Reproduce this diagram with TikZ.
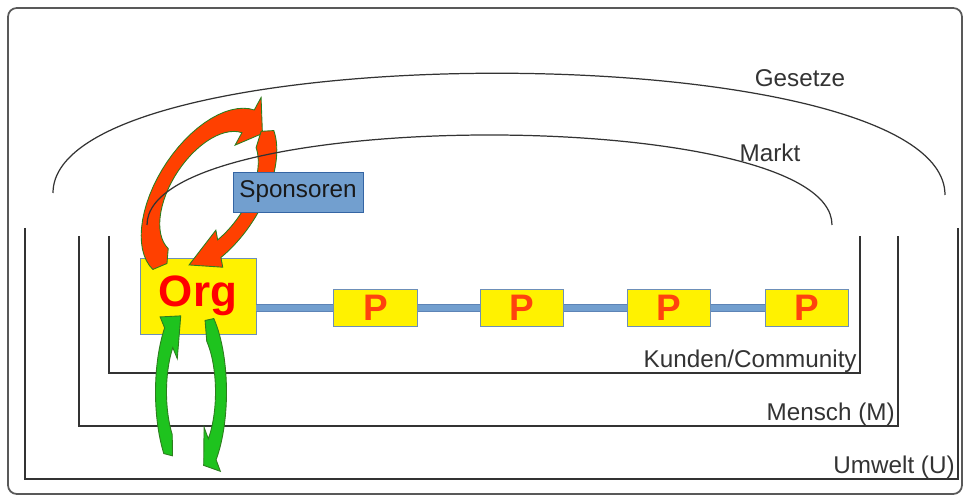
\documentclass[tikz,border=0pt]{standalone}
\usepackage{fontspec}
\setmainfont{Liberation Sans}
\usetikzlibrary{positioning}

\definecolor{boxblue}{HTML}{729FCF}
\definecolor{boxedge}{HTML}{3465A4}
\definecolor{orgedge}{HTML}{6D8FB8}
\definecolor{pred}{HTML}{FF420E}
\definecolor{loopred}{HTML}{FF4000}
\definecolor{loopgreen}{HTML}{1EC31E}
\definecolor{loopedge}{HTML}{2D7D1E}
\definecolor{lineg}{HTML}{333333}

% bent arrow: style, tail, start, end, tip angle, half width
\newcommand{\bentarrow}[6]{%
 \pgfmathsetmacro{\arrOut}{60+#6}\pgfmathsetmacro{\arrIn}{60-#6}%
 \pgfmathsetmacro{\wingOut}{60+2.1*#6}\pgfmathsetmacro{\wingIn}{60-2.1*#6}%
 \filldraw[#1] (#2:60) -- plot[domain=#3:#4,samples=30] (\x:\arrOut)
   -- (#4:\wingOut) -- (#5:60) -- (#4:\wingIn) -- (#4:\arrIn)
   -- plot[domain=#4:#3,samples=30] (\x:\arrIn) -- cycle;}

\begin{document}
\begin{tikzpicture}[x=0.02cm, y=-0.02cm,
  ring/.style={draw=lineg, line width=0.7pt},
  lbl/.style={text=lineg, font=\fontsize{13.8}{16}\selectfont, inner sep=0pt},
  orgbox/.style={draw=orgedge, fill=yellow, minimum width=2.32cm, minimum height=1.52cm,
    text=red, font=\bfseries\fontsize{25}{28}\selectfont},
  pbox/.style={draw=orgedge, fill=yellow, minimum width=1.67cm, minimum height=0.74cm,
    text=pred, font=\bfseries\fontsize{21}{24}\selectfont},
  link/.style={draw=boxedge!80, line width=5pt, postaction={draw=boxblue, line width=3.4pt}},
  redloop/.style={fill=loopred, draw=loopedge, line width=0.5pt},
  greenloop/.style={fill=loopgreen, draw=loopedge, line width=0.5pt}]

 \useasboundingbox (0,0) rectangle (965,502);
 \draw[draw=gray!70!black, line width=1pt, rounded corners=5pt] (8,8) rectangle (962,494);

 %%%  nodes

 % org and products
 \node[orgbox] (org) at (198,296) {Org};
 \node[pbox, right=1.54cm of org, yshift=-0.24cm] (p1) {P};
 \node[pbox, right=1.24cm of p1] (p2) {P};
 \node[pbox, right=1.26cm of p2] (p3) {P};
 \node[pbox, right=1.08cm of p3] (p4) {P};

 \draw[link] (org.east |- p1) to (p1);
 \draw[link] (p1) to (p2);
 \draw[link] (p2) to (p3);
 \draw[link] (p3) to (p4);

 % rings
 \draw[ring] (25,228) -- (25,479) -- (958,479) -- (958,228);
 \draw[ring] (79,236) -- (79,426) -- (898,426) -- (898,236);
 \draw[ring] (109,236) -- (109,373) -- (860,373) -- (860,236);

 % red loop
 \begin{scope}[shift={(209,193)}, rotate=-33, xscale=0.75, yscale=1.37]
  \bentarrow{redloop}{86}{96}{262}{286}{9.5}
  \bentarrow{redloop}{283}{293}{390}{420}{9.5}
 \end{scope}

 % green loop
 \begin{scope}[shift={(191,392)}, xscale=0.5, yscale=1.35]
  \bentarrow{greenloop}{128}{140}{222}{250}{11}
  \bentarrow{greenloop}{298}{310}{405}{425}{11}
 \end{scope}

 % arcs
 \draw[ring] (53,193) .. controls (53,33) and (945,33) .. (945,195);
 \draw[ring] (147,225) .. controls (147,105) and (832,105) .. (832,225);

 %%%  labels
 \node[lbl, draw=boxedge, fill=boxblue, text=black!90, minimum width=2.6cm, minimum height=0.8cm] (sponsoren) at (298,192) {Sponsoren};
 \node[lbl] (gesetze) at (800,78) {Gesetze};
 \node[lbl] (markt) at (770,153) {Markt};
 \node[lbl, anchor=east] (kunden) at (857,361) {Kunden/Community};
 \node[lbl, anchor=east] (mensch) at (895,414) {Mensch (M)};
 \node[lbl, anchor=east] (umwelt) at (955,467) {Umwelt (U)};

\end{tikzpicture}
\end{document}
